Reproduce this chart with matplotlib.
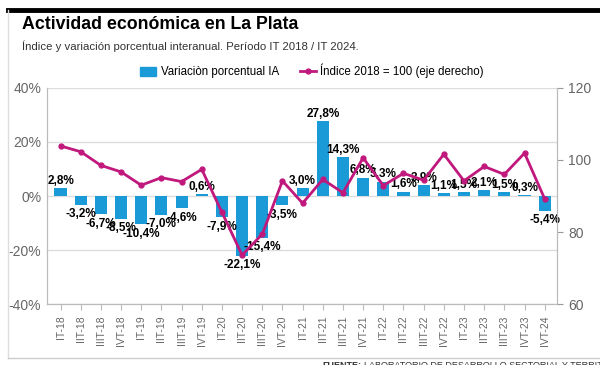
import numpy as np
import matplotlib.pyplot as plt
from matplotlib.lines import Line2D
from matplotlib.patches import Patch

plt.rcParams['font.family'] = ['Liberation Sans', 'DejaVu Sans']

trimestres = ['IT-18', 'IIT-18', 'IIIT-18', 'IVT-18', 'IT-19', 'IIT-19', 'IIIT-19', 'IVT-19',
              'IT-20', 'IIT-20', 'IIIT-20', 'IVT-20', 'IT-21', 'IIT-21', 'IIIT-21', 'IVT-21',
              'IT-22', 'IIT-22', 'IIIT-22', 'IVT-22', 'IT-23', 'IIT-23', 'IIIT-23', 'IVT-23',
              'IVT-24']
variacion = [2.8, -3.2, -6.7, -8.5, -10.4, -7.0, -4.6, 0.6,
             -7.9, -22.1, -15.4, -3.5, 3.0, 27.8, 14.3, 6.8,
             5.3, 1.6, 3.9, 1.1, 1.5, 2.1, 1.5, 0.3, -5.4]
indice = [103.9, 102.3, 98.5, 96.7, 93.0, 95.1, 94.0, 97.4,
          85.5, 73.6, 79.4, 94.2, 88.0, 94.6, 90.9, 100.6,
          92.9, 96.3, 94.4, 101.6, 94.2, 98.2, 96.0, 101.9, 89.2]

azul = '#1a9ad6'
magenta = '#c0187c'
gris = '#666666'

fig = plt.figure(figsize=(6, 3.65), dpi=100)
ax = fig.add_axes([0.078, 0.167, 0.85, 0.592])
x = np.arange(len(trimestres))

ax.bar(x, variacion, width=0.6, color=azul, zorder=2)
ax.set_ylim(-40, 40)
ax.set_xlim(-0.68, 24.6)
ax.set_yticks([40, 20, 0, -20, -40])
ax.set_yticklabels(['40%', '20%', '0%', '-20%', '-40%'])
ax.yaxis.grid(True, color='#dddddd', linewidth=1, zorder=0)
ax.tick_params(axis='y', length=0, labelsize=10, labelcolor=gris, pad=4)
ax.set_xticks(x)
ax.set_xticklabels(trimestres, rotation=90)
ax.tick_params(axis='x', length=4, color='#bbbbbb', labelsize=7.5, labelcolor=gris, pad=4)
for s in ['left', 'bottom', 'right']:
    ax.spines[s].set_color('#bbbbbb')
ax.spines['top'].set_visible(False)

for xi, v in zip(x, variacion):
    txt = f'{v:.1f}'.replace('.', ',') + '%'
    if v >= 0:
        ax.annotate(txt, (xi, v), xytext=(0, 1), textcoords='offset points',
                    ha='center', va='bottom', fontsize=8.5, fontweight='bold', zorder=4)
    else:
        ax.annotate(txt, (xi, v), xytext=(0, -2.5), textcoords='offset points',
                    ha='center', va='top', fontsize=8.5, fontweight='bold', zorder=4)

ax2 = ax.twinx()
ax2.plot(x, indice, color=magenta, linewidth=2, marker='o', markersize=3.5, zorder=5)
ax2.set_ylim(60, 120)
ax2.set_yticks([120, 100, 80, 60])
ax2.tick_params(axis='y', length=4, color='#999999', labelsize=10, labelcolor=gris, pad=4)
ax2.spines['top'].set_visible(False)
for s in ['left', 'bottom', 'right']:
    ax2.spines[s].set_color('#bbbbbb')

handles = [Patch(color=azul),
           Line2D([0], [0], color=magenta, linewidth=2, marker='o', markersize=3.5)]
fig.legend(handles, ['Variaciòn porcentual IA', 'Índice 2018 = 100 (eje derecho)'],
           loc='center', bbox_to_anchor=(0.52, 0.805), ncol=2, frameon=False,
           fontsize=8.3, handlelength=1.4, handleheight=0.8,
           columnspacing=1.8, handletextpad=0.4)

# titulos y marco
fig.text(0.037, 0.933, 'Actividad económica en La Plata', fontsize=12.8,
         fontweight='bold', va='center')
fig.text(0.037, 0.874, 'Índice y variación porcentual interanual. Período IT 2018 / IT 2024.',
         fontsize=8.2, color='#333333', va='center')
fig.add_artist(Line2D([0.013, 1.0], [0.973, 0.973], color='black', linewidth=3.5))
fig.add_artist(Line2D([0.013, 0.013], [0.019, 0.973], color='#dddddd', linewidth=1))
fig.add_artist(Line2D([0.013, 1.0], [0.019, 0.019], color='#cccccc', linewidth=1))

fuente = fig.text(0.538, 0.012, 'FUENTE:', fontsize=6.5, fontweight='bold', va='top',
                  color='#333333')
fig.canvas.draw()
bb = fuente.get_window_extent().transformed(fig.transFigure.inverted())
fig.text(bb.x1 + 0.004, 0.012,
         'LABORATORIO DE DESARROLLO SECTORIAL Y TERRITORIAL - FCE, UNLP',
         fontsize=6.5, va='top', color='#333333')

fig.savefig('out.png', dpi=100)
